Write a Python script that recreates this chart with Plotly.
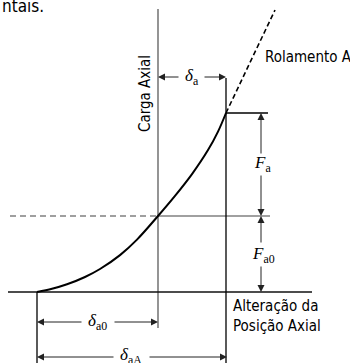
import plotly.graph_objects as go

# ---- schematic data (picture coordinates: x to the right, y downward) ----
curve_x = [37, 52, 67, 85, 100, 120, 137, 158, 175, 192, 208, 218, 226]
curve_y = [292, 288.8, 284.3, 277, 269, 255.1, 239.6, 216, 195.9, 174.1, 150.1, 131.6, 113]
ext_x = [226, 275]
ext_y = [113, 10]

load_axis_x = [158, 158]
load_axis_y = [9, 328]
disp_axis_x = [8, 312]
disp_axis_y = [292, 292]

fa0_dash_x = [10, 158]
fa0_solid_x = [158, 270]
fa0_y = [216, 216]

refA_x = [226, 226]
refA_y = [78, 363]
ref0_x = [37, 37]
ref0_y = [292, 363]
top_x = [226, 268]
top_y = [113, 113]

# arrows: (head_x, head_y, tail_x, tail_y)
arrows = [
    (158, 77, 180, 77), (226, 77, 203, 77),          # delta_a
    (261, 113, 261, 155), (261, 216, 261, 174),      # F_a
    (261, 216, 261, 244), (261, 292, 261, 265),      # F_a0
    (37, 322, 83, 322), (158, 322, 113, 322),        # delta_a0
    (37, 357, 115, 357), (227, 357, 148, 357),       # delta_aA
]

serif = "Liberation Serif, DejaVu Serif, serif"
sans = "DejaVu Sans Condensed, Roboto, Liberation Sans, sans-serif"

labels = [
    (192, 77, "<i>δ</i><sub>a</sub>", serif, 17, "center"),
    (97, 322, "<i>δ</i><sub>a0</sub>", serif, 17, "center"),
    (131, 356, "<i>δ</i><sub>aA</sub>", serif, 17, "center"),
    (262, 164, "<i>F</i><sub>a</sub>", serif, 17, "center"),
    (263, 255, "<i>F</i><sub>a0</sub>", serif, 17, "center"),
    (263, 57, "Rolamento A", sans, 15, "left"),
    (231, 316, "Alteração da<br>Posição Axial", sans, 15, "left"),
    (0, 6, "ntais.", sans, 17, "left"),
]

fig = go.Figure()

def line(xs, ys, color="black", width=1.3, dash="solid"):
    fig.add_trace(go.Scatter(x=xs, y=ys, mode="lines",
                             line=dict(color=color, width=width, dash=dash),
                             hoverinfo="skip", showlegend=False))

line(load_axis_x, load_axis_y, color="#7a7a7a", width=1.6)
line(disp_axis_x, disp_axis_y, color="#111111", width=1.3)
line(fa0_dash_x, fa0_y, color="#808080", width=1.4, dash="6px,4px")
line(fa0_solid_x, fa0_y, color="#808080", width=1.4)
line(refA_x, refA_y, width=1.3)
line(ref0_x, ref0_y, width=1.3)
line(top_x, top_y, width=1.3)
fig.add_trace(go.Scatter(x=curve_x, y=curve_y, mode="lines",
                         line=dict(color="black", width=2, shape="spline", smoothing=1),
                         hoverinfo="skip", showlegend=False))
line(ext_x, ext_y, width=1.6, dash="5px,3px")

for hx, hy, tx, ty in arrows:
    fig.add_annotation(x=hx, y=hy, ax=tx, ay=ty, xref="x", yref="y",
                       axref="x", ayref="y", text="", showarrow=True,
                       arrowhead=2, arrowsize=1.4, arrowwidth=1,
                       arrowcolor="#222222", standoff=0)

for x, y, t, fam, sz, anchor in labels:
    fig.add_annotation(x=x, y=y, xref="x", yref="y", text=t, showarrow=False,
                       xanchor=anchor, yanchor="middle", align="left",
                       font=dict(family=fam, size=sz, color="black"))

fig.add_annotation(x=145, y=94, xref="x", yref="y", text="Carga Axial",
                   showarrow=False, textangle=-90,
                   font=dict(family=sans, size=15, color="black"))

fig.update_layout(width=350, height=363, margin=dict(l=0, r=0, t=0, b=0),
                  paper_bgcolor="white", plot_bgcolor="white",
                  xaxis=dict(range=[0, 350], visible=False, fixedrange=True),
                  yaxis=dict(range=[363, 0], visible=False, fixedrange=True))

fig.write_html("out.html", config={"displayModeBar": False},
               post_script="document.body.style.margin='0';")
